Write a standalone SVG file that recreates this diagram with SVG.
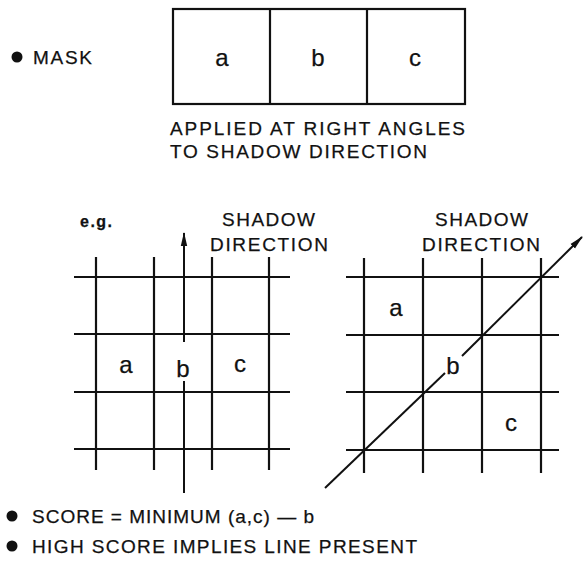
<svg xmlns="http://www.w3.org/2000/svg" width="583" height="570" viewBox="0 0 583 570">
<style>
  text { font-family: "Liberation Sans", Arial, sans-serif; fill: #111; stroke: #111; stroke-width: 0.25; }
  .lbl { font-size: 19px; }
  .cell { font-size: 24px; text-anchor: middle; }
  .grid line { stroke: #111; stroke-width: 2.2; }
  .box { fill: none; stroke: #111; stroke-width: 2.2; }
  .con { stroke: #111; stroke-width: 2; fill: none; }
</style>
<defs>
  <marker id="arr" markerUnits="userSpaceOnUse" markerWidth="14" markerHeight="8" refX="13" refY="4" orient="auto">
    <path d="M0,0.8 L14,4 L0,7.2 z" fill="#111"/>
  </marker>
</defs>
<rect width="583" height="570" fill="#fff"/>

<g id="mask-label">
  <circle cx="17" cy="57" r="5.5" fill="#111"/>
  <text class="lbl" x="33" y="64" textLength="59">MASK</text>
</g>

<g id="mask">
  <rect class="box" x="173" y="9" width="292" height="95"/>
  <line class="box" x1="270" y1="9" x2="270" y2="104"/>
  <line class="box" x1="367" y1="9" x2="367" y2="104"/>
  <text class="cell" x="222" y="66">a</text>
  <text class="cell" x="318" y="66">b</text>
  <text class="cell" x="415" y="66">c</text>
</g>

<g id="mask-caption">
  <text class="lbl" x="170" y="135" textLength="295">APPLIED AT RIGHT ANGLES</text>
  <text class="lbl" x="170" y="158" textLength="257">TO SHADOW DIRECTION</text>
</g>

<g id="eg">
  <text x="80" y="227" font-size="16" font-weight="bold" textLength="32">e.g.</text>
</g>

<g id="left-example">
  <text class="lbl" x="222" y="226" textLength="93">SHADOW</text>
  <text class="lbl" x="210" y="251" textLength="118">DIRECTION</text>
  <g class="grid">
    <line x1="74" y1="277" x2="290" y2="277"/>
    <line x1="74" y1="334" x2="290" y2="334"/>
    <line x1="74" y1="392" x2="290" y2="392"/>
    <line x1="74" y1="449" x2="290" y2="449"/>
    <line x1="96" y1="257" x2="96" y2="470"/>
    <line x1="154" y1="257" x2="154" y2="470"/>
    <line x1="212" y1="257" x2="212" y2="470"/>
    <line x1="269" y1="257" x2="269" y2="470"/>
  </g>
  <text class="cell" x="126" y="373">a</text>
  <text class="cell" x="183" y="377">b</text>
  <text class="cell" x="240" y="372">c</text>
</g>

<g id="right-example">
  <text class="lbl" x="435" y="226" textLength="93">SHADOW</text>
  <text class="lbl" x="422" y="251" textLength="118">DIRECTION</text>
  <g class="grid">
    <line x1="346" y1="277" x2="559" y2="277"/>
    <line x1="346" y1="335" x2="559" y2="335"/>
    <line x1="346" y1="392" x2="559" y2="392"/>
    <line x1="346" y1="450" x2="559" y2="450"/>
    <line x1="364" y1="258" x2="364" y2="473"/>
    <line x1="423" y1="258" x2="423" y2="473"/>
    <line x1="482" y1="258" x2="482" y2="473"/>
    <line x1="541" y1="258" x2="541" y2="473"/>
  </g>
  <text class="cell" x="396" y="316">a</text>
  <text class="cell" x="453" y="374">b</text>
  <text class="cell" x="511" y="431">c</text>
</g>

<g id="connectors">
  <line class="con" x1="184" y1="493" x2="184" y2="381"/>
  <line class="con" x1="184" y1="342" x2="184" y2="233" marker-end="url(#arr)"/>
  <line class="con" x1="325" y1="488" x2="445" y2="373"/>
  <line class="con" x1="462" y1="356" x2="582" y2="237" marker-end="url(#arr)"/>
</g>

<g id="notes">
  <circle cx="12" cy="516" r="5.5" fill="#111"/>
  <text class="lbl" x="32" y="523" textLength="282">SCORE = MINIMUM (a,c) — b</text>
  <circle cx="12" cy="546" r="5.5" fill="#111"/>
  <text class="lbl" x="32" y="553" textLength="385">HIGH SCORE IMPLIES LINE PRESENT</text>
</g>
</svg>
